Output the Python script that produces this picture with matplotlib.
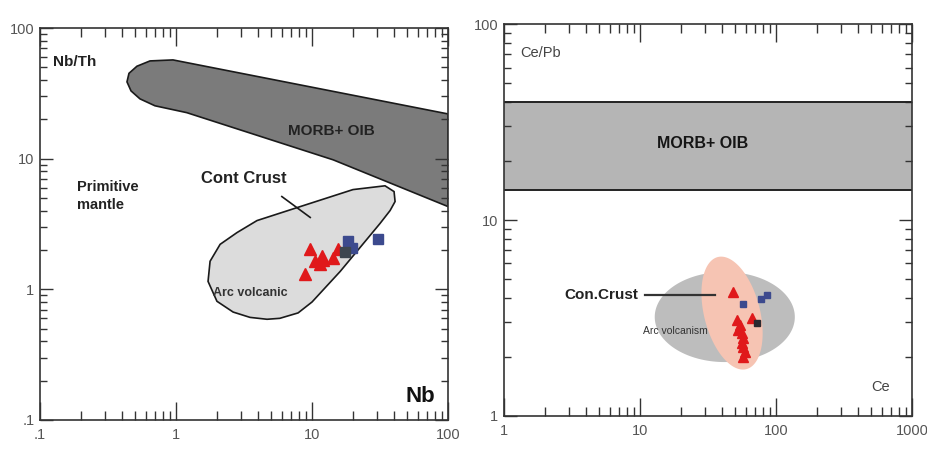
import numpy as np
import matplotlib.pyplot as plt
from matplotlib.patches import Polygon
from matplotlib.ticker import LogLocator, NullFormatter

plt.rcParams['font.family'] = ['Liberation Sans', 'DejaVu Sans']

# ---- Nb vs Nb/Th ----
# MORB + OIB field outline (Nb, Nb/Th)
morb_nb = [100, 0.95, 0.644, 0.516, 0.451, 0.436, 0.467, 0.543, 0.70, 1.2, 14.3, 100]
morb_nbth = [22, 57, 56, 51, 45, 38.7, 33, 28.7, 25.4, 22.5, 9.8, 4.3]

# continental crust / arc volcanic field outline
crust_nb = [1.78, 2.11, 2.81, 3.94, 8.2, 20.0, 34.4, 40.1, 40.8, 37.5, 31.6, 16.1,
            10.0, 7.9, 5.8, 4.67, 3.50, 2.63, 2.0, 1.72]
crust_nbth = [1.64, 2.21, 2.72, 3.36, 4.30, 5.8, 6.2, 5.6, 4.7, 4.01, 3.19, 1.37,
              0.80, 0.66, 0.60, 0.59, 0.61, 0.67, 0.81, 1.15]

tri_nb = [9.67, 11.8, 12.0, 11.5, 14.3, 15.5, 8.9, 10.5]
tri_nbth = [2.02, 1.79, 1.69, 1.55, 1.75, 2.02, 1.30, 1.64]
sq_nb = [18.4, 19.7, 30.6]
sq_nbth = [2.33, 2.09, 2.41]
dsq_nb = [17.5]
dsq_nbth = [1.92]

# ---- Ce vs Ce/Pb ----
morb_cepb = [14.2, 40.0]
# ellipses in log10 space: centre, then two semi-axis vectors (decades)
arc_centre = (42.0, 3.2)
arc_axes = [(0.515, 0.0), (0.0, 0.23)]
cc_centre = (47.5, 3.35)
cc_axes = [(-0.105, 0.286), (0.199, 0.035)]

tri_ce = [48.3, 66.6, 51.7, 54.4, 52.6, 56.2, 57.2, 56.2, 57.2, 59.2, 57.2]
tri_cepb = [4.29, 3.16, 3.09, 2.91, 2.75, 2.65, 2.50, 2.36, 2.25, 2.12, 2.0]
sq_ce = [57.2, 77.6, 85.9]
sq_cepb = [3.73, 3.95, 4.15]
dsq_ce = [72.5]
dsq_cepb = [2.98]

RED = '#e0191b'
BLUE = '#3c4a8e'
DARK = '#3d4650'
TICK_GREY = '#555555'
NARROW = ['Liberation Sans Narrow', 'Liberation Sans', 'DejaVu Sans']


def log_ellipse(centre, axes_vec, n=200):
    t = np.linspace(0, 2 * np.pi, n)
    cx, cy = np.log10(centre[0]), np.log10(centre[1])
    (ux, uy), (vx, vy) = axes_vec
    lx = cx + ux * np.cos(t) + vx * np.sin(t)
    ly = cy + uy * np.cos(t) + vy * np.sin(t)
    return np.column_stack([10 ** lx, 10 ** ly])


def style_axes(ax, xticks, yticks):
    ax.set_xscale('log')
    ax.set_yscale('log')
    ax.set_xlim(xticks[0], xticks[-1])
    ax.set_ylim(yticks[0], yticks[-1])
    ax.set_xticks(xticks, [('%g' % v).replace('0.', '.') for v in xticks])
    ax.set_yticks(yticks, [('%g' % v).replace('0.', '.') for v in yticks])
    for axis in (ax.xaxis, ax.yaxis):
        axis.set_minor_locator(LogLocator(base=10, subs=np.arange(2, 10)))
        axis.set_minor_formatter(NullFormatter())
    ax.tick_params(which='both', direction='in', top=True, right=True,
                   width=1.0, color='#333333', labelcolor=TICK_GREY, labelsize=10.5)
    ax.tick_params(axis='x', which='major', length=13, pad=6)
    ax.tick_params(axis='x', which='minor', length=6.5)
    ax.tick_params(axis='y', which='major', length=9.5, pad=4)
    ax.tick_params(axis='y', which='minor', length=5)
    for lbl in ax.get_xticklabels() + ax.get_yticklabels():
        lbl.set_family(NARROW)
    for sp in ax.spines.values():
        sp.set_linewidth(1.2)
        sp.set_color('#333333')


fig = plt.figure(figsize=(9.28, 4.49), dpi=100)
ax1 = fig.add_axes([0.0431, 0.0646, 0.4397, 0.873])
ax2 = fig.add_axes([0.5431, 0.0735, 0.4397, 0.873])

# left: Nb/Th vs Nb
style_axes(ax1, [0.1, 1, 10, 100], [0.1, 1, 10, 100])
ax1.add_patch(Polygon(np.column_stack([morb_nb, morb_nbth]), closed=True,
                      facecolor='#7b7b7b', edgecolor='#1a1a1a', lw=1.2, zorder=1))
ax1.add_patch(Polygon(np.column_stack([crust_nb, crust_nbth]), closed=True,
                      facecolor='#dcdcdc', edgecolor='#1a1a1a', lw=1.2, zorder=2))
ax1.plot([6.0, 9.7], [5.13, 3.55], color='#1a1a1a', lw=1.2, zorder=3)
ax1.plot(tri_nb, tri_nbth, ls='none', marker='^', ms=9, color=RED, zorder=4)
ax1.plot(sq_nb, sq_nbth, ls='none', marker='s', ms=7, color=BLUE, zorder=4)
ax1.plot(dsq_nb, dsq_nbth, ls='none', marker='s', ms=7, color=DARK, zorder=4)

ax1.text(0.125, 55, 'Nb/Th', fontsize=11, fontweight='bold', color='#222222',
         va='center', ha='left')
ax1.text(13.8, 16.4, 'MORB+ OIB', fontsize=11, fontweight='bold', color='#222222',
         va='center', ha='center', zorder=5)
ax1.text(3.16, 7.0, 'Cont Crust', fontsize=12, fontweight='bold', color='#222222',
         va='center', ha='center')
ax1.text(0.187, 5.17, 'Primitive\nmantle', fontsize=10.5, fontweight='bold',
         color='#222222', va='center', ha='left', linespacing=1.35)
ax1.text(1.87, 0.93, 'Arc volcanic', fontsize=9, fontweight='bold', color='#333333',
         va='center', ha='left', zorder=5)
ax1.text(80, 0.152, 'Nb', fontsize=16, fontweight='bold', color='#111111',
         va='center', ha='right')

# right: Ce/Pb vs Ce
style_axes(ax2, [1, 10, 100, 1000], [1, 10, 100])
ax2.axhspan(morb_cepb[0], morb_cepb[1], facecolor='#b5b5b5', edgecolor='none', zorder=1)
for v in morb_cepb:
    ax2.axhline(v, color='#222222', lw=1.4, zorder=2)
ax2.add_patch(Polygon(log_ellipse(arc_centre, arc_axes), closed=True,
                      facecolor='#bdbdbd', edgecolor='none', zorder=2))
ax2.add_patch(Polygon(log_ellipse(cc_centre, cc_axes), closed=True,
                      facecolor='#f6c4b3', edgecolor='none', zorder=3))
ax2.plot([10.9, 35.6], [4.14, 4.14], color='#333333', lw=1.6, zorder=4)
ax2.plot(tri_ce, tri_cepb, ls='none', marker='^', ms=7, color=RED, zorder=5)
ax2.plot(sq_ce, sq_cepb, ls='none', marker='s', ms=5, color=BLUE, zorder=5)
ax2.plot(dsq_ce, dsq_cepb, ls='none', marker='s', ms=5, color='#2a2a30', zorder=5)

ax2.text(1.31, 71, 'Ce/Pb', fontsize=10.5, color='#444444', va='center', ha='left')
ax2.text(29, 24.7, 'MORB+ OIB', fontsize=11.5, fontweight='bold', color='#151515',
         va='center', ha='center', zorder=5)
ax2.text(9.7, 4.14, 'Con.Crust', fontsize=11, fontweight='bold', color='#222222',
         va='center', ha='right', zorder=5)
ax2.text(18.1, 2.72, 'Arc volcanism', fontsize=7.5, color='#333333',
         va='center', ha='center', zorder=5)
ax2.text(689, 1.41, 'Ce', fontsize=10.5, color='#444444', va='center', ha='right')

fig.savefig('out.png', dpi=100, facecolor='white')
